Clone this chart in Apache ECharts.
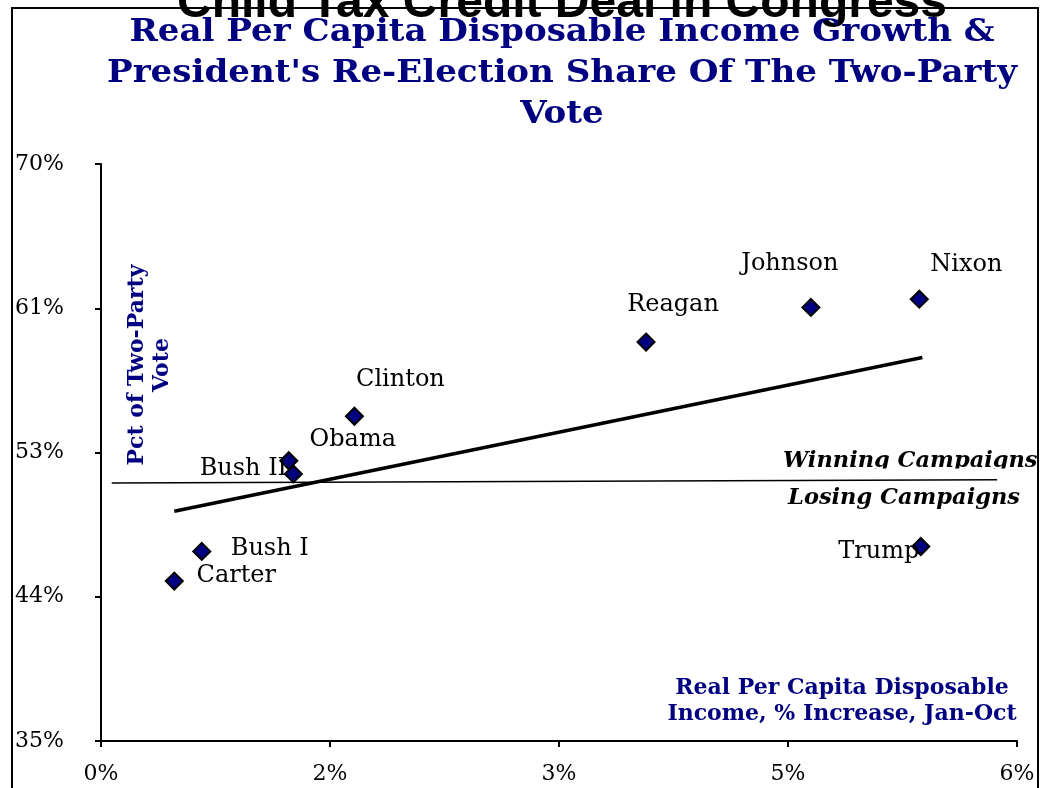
<!DOCTYPE html>
<html>
<head>
<meta charset="utf-8">
<script src="https://cdn.jsdelivr.net/npm/echarts@6/dist/echarts.min.js"></script>
<style>
  html, body { margin: 0; padding: 0; background: #ffffff; }
  #chart { width: 1044px; height: 788px; }
</style>
</head>
<body>
<div id="chart"></div>
<script>
// Re-election campaigns: income growth (x, %) vs. incumbent's two-party share (y, %)
const presidents = ['Carter', 'Bush I', 'Obama', 'Bush II', 'Clinton', 'Reagan', 'Johnson', 'Nixon', 'Trump'];
const incomeGrowth = [0.48, 0.66, 1.23, 1.26, 1.66, 3.57, 4.65, 5.36, 5.37];
const voteShare = [44.7, 46.5, 52.0, 51.2, 54.7, 59.2, 61.3, 61.8, 46.8];

// Fitted trend line end points
const trendX = [0.48, 5.38];
const trendY = [48.94, 58.26];

// Winning / losing divider end points
const dividerX = [0.07, 5.87];
const dividerY = [50.65, 50.84];

// Tick labels
const xTickLabels = ['0%', '2%', '3%', '5%', '6%'];
const yTickLabels = ['35%', '44%', '53%', '61%', '70%'];

// Label offsets (px) from each marker's centre
const labelOffsets = {
  'Carter': [62, -5], 'Bush I': [68, -3], 'Obama': [64, -21], 'Bush II': [-50, -5],
  'Clinton': [46, -36], 'Reagan': [27, -37], 'Johnson': [-21, -44], 'Nixon': [47, -34],
  'Trump': [-42, 5]
};

const NAVY = '#000080';
const SERIF = "'DejaVu Serif', serif";

const points = presidents.map((name, i) => ({
  name: name,
  value: [incomeGrowth[i], voteShare[i]],
  label: { offset: labelOffsets[name] }
}));

const chart = echarts.init(document.getElementById('chart'), null, { renderer: 'canvas' });

chart.setOption({
  backgroundColor: '#ffffff',
  animation: false,
  grid: { left: 101, right: 27, top: 164, bottom: 47 },
  xAxis: {
    type: 'value', min: 0, max: 6, interval: 1.5,
    splitLine: { show: false },
    axisLine: { lineStyle: { color: '#000', width: 2 } },
    axisTick: { show: true, length: 6, lineStyle: { color: '#000', width: 2 } },
    axisLabel: {
      margin: 22, color: '#000', fontFamily: SERIF, fontSize: 22,
      formatter: v => xTickLabels[Math.round(v / 1.5)]
    }
  },
  yAxis: {
    type: 'value', min: 35, max: 70, interval: 8.75,
    splitLine: { show: false },
    axisLine: { show: true, lineStyle: { color: '#000', width: 2 } },
    axisTick: { show: true, length: 6, lineStyle: { color: '#000', width: 2 } },
    axisLabel: {
      margin: 37, color: '#000', fontFamily: SERIF, fontSize: 22,
      padding: [6, 0, 0, 0],
      formatter: v => yTickLabels[Math.round((v - 35) / 8.75)]
    }
  },
  series: [
    {
      type: 'line', z: 2, symbol: 'none', silent: true,
      lineStyle: { color: '#000', width: 1.5 },
      data: dividerX.map((x, i) => [x, dividerY[i]])
    },
    {
      type: 'line', z: 3, symbol: 'none', silent: true,
      lineStyle: { color: '#000', width: 3.5 },
      data: trendX.map((x, i) => [x, trendY[i]])
    },
    {
      type: 'scatter', z: 5, symbol: 'diamond', symbolSize: 17,
      itemStyle: { color: NAVY, borderColor: '#000', borderWidth: 2, opacity: 1 },
      label: {
        show: true, position: 'inside', formatter: '{b}',
        color: '#000', fontFamily: SERIF, fontSize: 24, textBorderWidth: 0
      },
      data: points
    }
  ],
  graphic: [
    {
      type: 'text', z: 1,
      style: {
        text: 'Child Tax Credit Deal in Congress',
        x: 562, y: -20,
        fill: '#000', font: "bold 48px 'Liberation Sans', Arial, sans-serif",
        textAlign: 'center'
      }
    },
    {
      type: 'rect', z: 10, silent: true,
      shape: { x: 12, y: 8, width: 1026, height: 790 },
      style: { fill: 'none', stroke: '#000', lineWidth: 2 }
    },
    {
      type: 'text', z: 11, x: 562, y: 74, scaleX: 1.1,
      style: {
        text: "Real Per Capita Disposable Income Growth &\nPresident's Re-Election Share Of The Two-Party\nVote",
        x: 0, y: 0, textAlign: 'center', textVerticalAlign: 'middle',
        fill: NAVY, font: "bold 31px 'DejaVu Serif', serif", lineHeight: 41
      }
    },
    {
      type: 'text', z: 11, rotation: Math.PI / 2, x: 150, y: 365,
      style: {
        text: 'Pct of Two-Party\nVote',
        x: 0, y: 0, textAlign: 'center', textVerticalAlign: 'middle',
        fill: NAVY, font: "bold 22px 'DejaVu Serif', serif", lineHeight: 25
      }
    },
    {
      type: 'text', z: 11,
      style: {
        text: 'Real Per Capita Disposable\nIncome, % Increase, Jan-Oct',
        x: 842, y: 701, textAlign: 'center', textVerticalAlign: 'middle',
        fill: NAVY, font: "bold 22px 'DejaVu Serif', serif", lineHeight: 26
      }
    },
    {
      type: 'text', z: 11,
      style: {
        text: 'Winning Campaigns',
        x: 783, y: 461, textAlign: 'left', textVerticalAlign: 'middle',
        fill: '#000', font: "italic bold 22.5px 'DejaVu Serif', serif"
      }
    },
    {
      // masks the descenders of the label above
      type: 'rect', z: 12, silent: true,
      shape: { x: 775, y: 468.5, width: 262, height: 9 },
      style: { fill: '#ffffff' }
    },
    {
      type: 'rect', z: 12, silent: true,
      shape: { x: 1039, y: 440, width: 10, height: 40 },
      style: { fill: '#ffffff' }
    },
    {
      type: 'text', z: 11,
      style: {
        text: 'Losing Campaigns',
        x: 904, y: 498, textAlign: 'center', textVerticalAlign: 'middle',
        fill: '#000', font: "italic bold 22.5px 'DejaVu Serif', serif"
      }
    }
  ]
});
</script>
</body>
</html>
